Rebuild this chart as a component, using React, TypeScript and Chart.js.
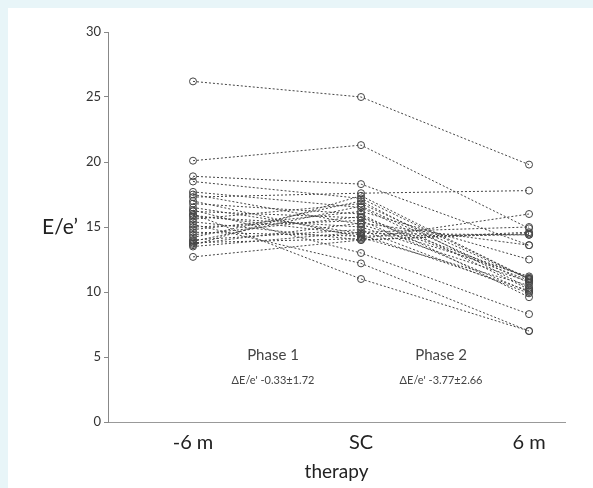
import React, { useEffect, useRef } from "react";
import { Chart, registerables } from "chart.js";

Chart.register(...registerables);

const timeLabels = ["-6 m", "SC", "6 m"];
const yTicks = [0, 5, 10, 15, 20, 25, 30];
const pre = [26.2, 20.1, 18.9, 18.5, 17.7, 17.5, 17.3, 17.0, 16.8, 16.5, 16.3, 16.0, 15.8, 15.6, 15.4, 15.2, 15.0, 14.8, 14.6, 14.4, 14.2, 14.0, 13.9, 13.8, 13.7, 13.6, 13.5, 16.2, 15.9, 12.7];
const sc = [25.0, 21.3, 18.3, 17.2, 16.5, 15.2, 17.6, 14.2, 16.0, 14.5, 13.0, 11.0, 15.0, 16.8, 14.0, 12.2, 15.5, 16.2, 14.3, 15.8, 17.0, 14.8, 16.6, 14.1, 15.3, 17.4, 14.6, 15.7, 14.4, 14.0];
const post = [19.8, 14.9, 13.6, 11.0, 10.2, 11.2, 17.8, 10.5, 9.6, 14.4, 8.3, 7.0, 10.8, 11.0, 14.6, 7.0, 10.0, 12.5, 14.4, 11.1, 10.3, 9.9, 10.7, 16.0, 13.6, 11.0, 15.0, 10.9, 10.1, 14.5];
const phaseLabels = ["Phase 1", "Phase 2"];
const deltaLabels = ["ΔE/e' -0.33±1.72", "ΔE/e' -3.77±2.66"];
const yTitle = "E/e’";
const xTitle = "therapy";

const FONT = "Lato, 'Open Sans', sans-serif";

export default function App() {
  const ref = useRef<HTMLCanvasElement>(null);
  useEffect(() => {
    if (!ref.current) return;
    const datasets = pre.map((v, i) => ({
      data: [
        { x: 0, y: v },
        { x: 1, y: sc[i] },
        { x: 2, y: post[i] },
      ],
      borderColor: "#444",
      borderWidth: 1,
      borderDash: [2, 2],
      pointRadius: 3.5,
      pointBorderColor: "#444",
      pointBackgroundColor: "rgba(0,0,0,0)",
      pointBorderWidth: 1,
      fill: false,
      tension: 0,
    }));
    const textPlugin = {
      id: "texts",
      afterDraw(chart: any) {
        const ctx = chart.ctx;
        const xs = chart.scales.x;
        const ys = chart.scales.y;
        ctx.save();
        ctx.fillStyle = "#222";
        ctx.textAlign = "center";
        ctx.textBaseline = "middle";
        ctx.font = `21px ${FONT}`;
        ctx.fillText(yTitle, 52, ys.getPixelForValue(15));
        for (let i = 0; i < 2; i++) {
          const cx = (xs.getPixelForValue(i) + xs.getPixelForValue(i + 1)) / 2 - 4;
          ctx.fillStyle = "#444";
          ctx.font = `15px ${FONT}`;
          ctx.fillText(phaseLabels[i], cx, ys.getPixelForValue(5.15));
          ctx.font = `11px ${FONT}`;
          ctx.fillText(deltaLabels[i], cx, ys.getPixelForValue(3.2));
        }
        ctx.restore();
      },
    };
    const chart = new Chart(ref.current, {
      type: "line",
      data: { datasets },
      plugins: [textPlugin],
      options: {
        animation: false,
        responsive: false,
        layout: { padding: { left: 0, top: 24, right: 28, bottom: 0 } },
        plugins: { legend: { display: false }, tooltip: { enabled: false } },
        scales: {
          x: {
            type: "linear",
            min: -0.506,
            max: 2.214,
            afterBuildTicks: (s: any) => {
              s.ticks = timeLabels.map((_, i) => ({ value: i }));
            },
            afterFit: (s: any) => {
              s.height = 66;
            },
            ticks: {
              callback: (v: any) => timeLabels[Math.round(Number(v))] ?? "",
              font: { family: FONT, size: 20 },
              color: "#222",
              padding: 9,
              maxRotation: 0,
            },
            grid: { display: false, drawTicks: false },
            border: { color: "#999", width: 1 },
            title: {
              display: true,
              text: xTitle,
              font: { family: FONT, size: 19 },
              color: "#222",
              padding: { top: 0, bottom: 5 },
            },
          },
          y: {
            min: 0,
            max: 30,
            afterBuildTicks: (s: any) => {
              s.ticks = yTicks.map((v) => ({ value: v }));
            },
            afterFit: (s: any) => {
              s.width = 100;
            },
            ticks: {
              font: { family: FONT, size: 13 },
              color: "#333",
              padding: 3,
            },
            grid: {
              drawOnChartArea: false,
              drawTicks: true,
              tickLength: 4,
              color: "#888",
            },
            border: { color: "#888", width: 1 },
          },
        },
      },
    });
    return () => chart.destroy();
  }, []);
  return (
    <div style={{ position: "fixed", inset: 0, background: "#e8f5f8" }}>
      <div style={{ position: "absolute", left: 8, top: 8, right: 0, bottom: 0, background: "#fff" }}>
        <canvas ref={ref} width={585} height={480} style={{ display: "block" }} />
      </div>
    </div>
  );
}
